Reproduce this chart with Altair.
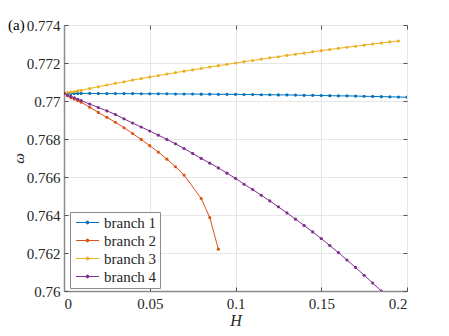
import altair as alt
import pandas as pd

H_fine = [0.0, 0.002, 0.004, 0.006, 0.008, 0.01]
H_coarse = [round(0.015 + 0.005 * i, 3) for i in range(38)]  # 0.015 .. 0.2

branch1 = [0.77040, 0.77040, 0.77040, 0.77040, 0.77040, 0.77040,
           0.77040, 0.77039, 0.77039, 0.77039, 0.77039, 0.77039, 0.77038, 0.77038,
           0.77038, 0.77038, 0.77037, 0.77037, 0.77037, 0.77036, 0.77036, 0.77035,
           0.77035, 0.77035, 0.77034, 0.77034, 0.77033, 0.77033, 0.77032, 0.77032,
           0.77031, 0.77030, 0.77030, 0.77029, 0.77028, 0.77027, 0.77027, 0.77026,
           0.77025, 0.77024, 0.77023, 0.77022, 0.77021, 0.77020]

branch2_H = [0.0, 0.002, 0.004, 0.006, 0.008, 0.01, 0.015, 0.02, 0.025, 0.03, 0.035,
             0.04, 0.045, 0.05, 0.055, 0.06, 0.065, 0.07, 0.08, 0.085, 0.09]
branch2 = [0.77040, 0.77027, 0.77018, 0.77010, 0.77002, 0.76994, 0.76967, 0.76940,
           0.76914, 0.76888, 0.76859, 0.76829, 0.76798, 0.76765, 0.76731, 0.76694,
           0.76654, 0.76610, 0.76487, 0.76387, 0.76220]

branch3 = [0.77040, 0.77044, 0.77047, 0.77050, 0.77053, 0.77056,
           0.77066, 0.77075, 0.77084, 0.77093, 0.77101, 0.77110, 0.77118, 0.77126,
           0.77134, 0.77142, 0.77149, 0.77157, 0.77164, 0.77171, 0.77179, 0.77186,
           0.77193, 0.77200, 0.77207, 0.77213, 0.77220, 0.77227, 0.77233, 0.77240,
           0.77246, 0.77252, 0.77259, 0.77265, 0.77271, 0.77277, 0.77283, 0.77288,
           0.77294, 0.77300, 0.77305, 0.77311, 0.77316]

branch4 = [0.77040, 0.77031, 0.77024, 0.77017, 0.77009, 0.77002,
           0.76984, 0.76966, 0.76948, 0.76929, 0.76906, 0.76884, 0.76863, 0.76842,
           0.76820, 0.76798, 0.76775, 0.76750, 0.76724, 0.76698, 0.76673, 0.76648,
           0.76620, 0.76593, 0.76562, 0.76534, 0.76504, 0.76474, 0.76443, 0.76411,
           0.76378, 0.76345, 0.76311, 0.76276, 0.76239, 0.76202, 0.76163, 0.76124,
           0.76083, 0.76042, 0.76000]

names = ["branch 1", "branch 2", "branch 3", "branch 4"]
colors = ["#0072BD", "#D95319", "#EDB120", "#7E2F8E"]
x_ticks = [0, 0.05, 0.1, 0.15, 0.2]
y_ticks = [0.76, 0.762, 0.764, 0.766, 0.768, 0.77, 0.772, 0.774]

H_all = H_fine + H_coarse
rows = []
for h, w in zip(H_all, branch1):
    rows.append({"H": h, "w": w, "branch": names[0]})
for h, w in zip(branch2_H, branch2):
    rows.append({"H": h, "w": w, "branch": names[1]})
for h, w in zip(H_all, branch3):
    rows.append({"H": h, "w": w, "branch": names[2]})
for h, w in zip(H_all, branch4):
    rows.append({"H": h, "w": w, "branch": names[3]})
df = pd.DataFrame(rows)

FONT = "Liberation Serif, Times New Roman, serif"
W, Hh = 343, 266
xs = alt.Scale(domain=[0, 0.2], nice=False)
ys = alt.Scale(domain=[0.76, 0.774], nice=False)

legend_symbol = ("M-2,0H2M-0.26,0A0.26,0.26,0,1,1,0.26,0"
                 "A0.26,0.26,0,1,1,-0.26,0")

lines = alt.Chart(df).mark_line(
    strokeWidth=1, clip=True,
    point=alt.OverlayMarkDef(filled=True, size=10, clip=True),
).encode(
    x=alt.X("H:Q", scale=xs,
            axis=alt.Axis(values=x_ticks, format="~g", orient="bottom",
                          title="H", titleFontStyle="italic", titleFontWeight="normal",
                          titleFontSize=16, titlePadding=1, labelPadding=5,
                          ticks=False)),
    y=alt.Y("w:Q", scale=ys,
            axis=alt.Axis(values=y_ticks, orient="left",
                          format="~g", title="ω", titleFontStyle="italic",
                          titleFontWeight="normal", titleFontSize=15, titlePadding=0,
                          labelPadding=4, ticks=False)),
    color=alt.Color("branch:N", scale=alt.Scale(domain=names, range=colors),
                    legend=alt.Legend(title=None, orient="none", legendX=6, legendY=187,
                                      symbolType=legend_symbol, symbolSize=132,
                                      symbolStrokeWidth=1, symbolOffset=7,
                                      labelFont=FONT, labelColor="#262626",
                                      labelFontSize=15, rowPadding=2,
                                      fillColor="white", strokeColor="#8c8c8c",
                                      padding=3, labelOffset=9)),
    order="H:Q",
)

# inward tick marks on all four sides (MATLAB box style)
tick_axis = dict(labels=False, grid=False, domain=False, title=None,
                 ticks=True, tickSize=4, tickColor="#555555", tickWidth=1)
ticks_a = alt.Chart(df).mark_point(opacity=0).encode(
    x=alt.X("H:Q", scale=xs, axis=alt.Axis(values=x_ticks, orient="top",
                                            offset=-Hh, **tick_axis)),
    y=alt.Y("w:Q", scale=ys, axis=alt.Axis(values=y_ticks, orient="right",
                                            offset=-W, **tick_axis)),
)
ticks_b = alt.Chart(df).mark_point(opacity=0).encode(
    x=alt.X("H:Q", scale=xs, axis=alt.Axis(values=x_ticks, orient="bottom",
                                            offset=-Hh, **tick_axis)),
    y=alt.Y("w:Q", scale=ys, axis=alt.Axis(values=y_ticks, orient="left",
                                            offset=-W, **tick_axis)),
)

label = alt.Chart(pd.DataFrame({"t": ["(a)"]})).mark_text(
    font=FONT, fontSize=15, align="left", baseline="alphabetic", color="black"
).encode(text="t:N", x=alt.value(-56), y=alt.value(5))

chart = alt.layer(lines, ticks_a, ticks_b, label).resolve_axis(
    x="independent", y="independent"
).properties(
    width=W, height=Hh,
    autosize=alt.AutoSizeParams(type="none"),
    padding={"left": 56, "top": 17, "right": 34, "bottom": 37},
).configure(
    font=FONT
).configure_view(
    stroke="#8c8c8c", strokeWidth=1
).configure_axis(
    labelFont=FONT, labelFontSize=15, labelColor="#262626",
    titleFont=FONT, titleColor="#262626",
    domainColor="#8c8c8c", domainWidth=1.5,
    gridColor="#e6e6e6", gridWidth=1,
).configure_legend(
    labelFont=FONT
)

chart.save("out.html", embed_options={"renderer": "svg", "actions": False})
